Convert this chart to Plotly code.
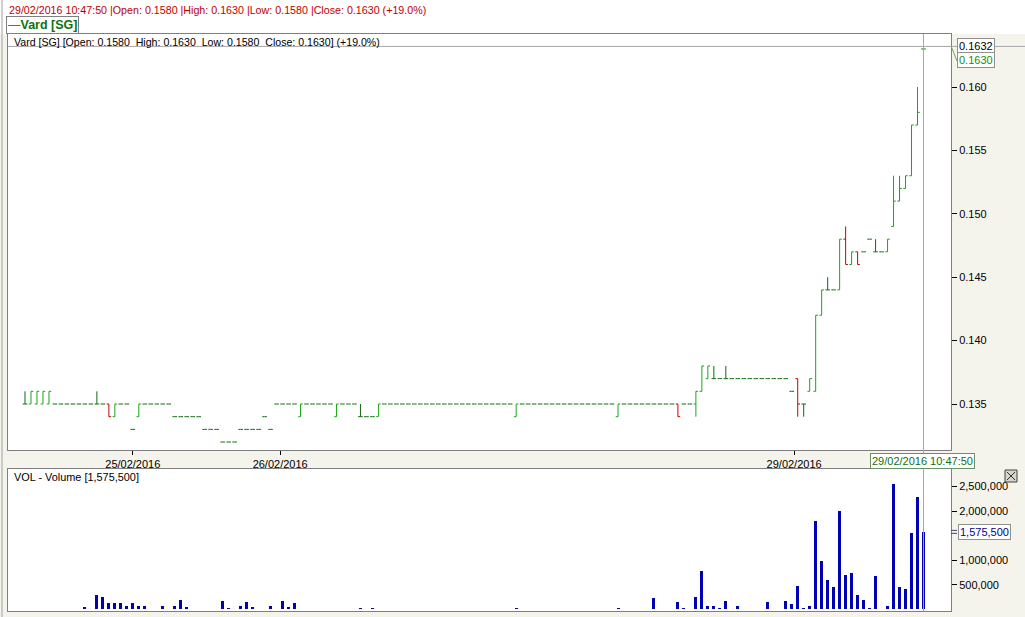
import plotly.graph_objects as go

# ---------------- data ----------------
bar_index = list(range(151))

open_ = [
    0.135, 0.135, 0.135, 0.135, 0.135, 0.135, 0.135, 0.135, 0.135, 0.135,
    0.135, 0.135, 0.135, 0.135, 0.135, 0.134, 0.135, 0.135, 0.133, 0.134,
    0.135, 0.135, 0.135, 0.135, 0.135, 0.134, 0.134, 0.134, 0.134, 0.134,
    0.133, 0.133, 0.133, 0.132, 0.132, 0.132, 0.133, 0.133, 0.133, 0.133,
    0.134, 0.133, 0.135, 0.135, 0.135, 0.135, 0.134, 0.135, 0.135, 0.135,
    0.135, 0.135, 0.134, 0.135, 0.135, 0.135, 0.134, 0.134, 0.134, 0.134,
    0.135, 0.135, 0.135, 0.135, 0.135, 0.135, 0.135, 0.135, 0.135, 0.135,
    0.135, 0.135, 0.135, 0.135, 0.135, 0.135, 0.135, 0.135, 0.135, 0.135,
    0.135, 0.135, 0.134, 0.135, 0.135, 0.135, 0.135, 0.135, 0.135, 0.135,
    0.135, 0.135, 0.135, 0.135, 0.135, 0.135, 0.135, 0.135, 0.135, 0.134,
    0.135, 0.135, 0.135, 0.135, 0.135, 0.135, 0.135, 0.135, 0.135, 0.135,
    0.135, 0.135, 0.135, 0.136, 0.137, 0.137, 0.137, 0.137, 0.137, 0.137,
    0.137, 0.137, 0.137, 0.137, 0.137, 0.137, 0.137, 0.137, 0.136, 0.137,
    0.135, 0.136, 0.136, 0.142, 0.144, 0.144, 0.144, 0.148, 0.146, 0.147,
    0.147, 0.148, 0.147, 0.147, 0.147, 0.149, 0.151, 0.152, 0.153, 0.157,
    0.163,
]
high = [
    0.136, 0.136, 0.136, 0.136, 0.136, 0.135, 0.135, 0.135, 0.135, 0.135,
    0.135, 0.135, 0.136, 0.135, 0.135, 0.135, 0.135, 0.135, 0.133, 0.135,
    0.135, 0.135, 0.135, 0.135, 0.135, 0.134, 0.134, 0.134, 0.134, 0.134,
    0.133, 0.133, 0.133, 0.132, 0.132, 0.132, 0.133, 0.133, 0.133, 0.133,
    0.134, 0.133, 0.135, 0.135, 0.135, 0.135, 0.135, 0.135, 0.135, 0.135,
    0.135, 0.135, 0.135, 0.135, 0.135, 0.135, 0.135, 0.134, 0.134, 0.135,
    0.135, 0.135, 0.135, 0.135, 0.135, 0.135, 0.135, 0.135, 0.135, 0.135,
    0.135, 0.135, 0.135, 0.135, 0.135, 0.135, 0.135, 0.135, 0.135, 0.135,
    0.135, 0.135, 0.135, 0.135, 0.135, 0.135, 0.135, 0.135, 0.135, 0.135,
    0.135, 0.135, 0.135, 0.135, 0.135, 0.135, 0.135, 0.135, 0.135, 0.135,
    0.135, 0.135, 0.135, 0.135, 0.135, 0.135, 0.135, 0.135, 0.135, 0.135,
    0.135, 0.135, 0.136, 0.138, 0.138, 0.138, 0.137, 0.138, 0.137, 0.137,
    0.137, 0.137, 0.137, 0.137, 0.137, 0.137, 0.137, 0.137, 0.136, 0.137,
    0.135, 0.137, 0.142, 0.144, 0.145, 0.144, 0.148, 0.149, 0.147, 0.147,
    0.147, 0.148, 0.148, 0.147, 0.148, 0.153, 0.153, 0.153, 0.157, 0.160,
    0.163,
]
low = [
    0.135, 0.135, 0.135, 0.135, 0.135, 0.135, 0.135, 0.135, 0.135, 0.135,
    0.135, 0.135, 0.135, 0.135, 0.134, 0.134, 0.135, 0.135, 0.133, 0.134,
    0.135, 0.135, 0.135, 0.135, 0.135, 0.134, 0.134, 0.134, 0.134, 0.134,
    0.133, 0.133, 0.133, 0.132, 0.132, 0.132, 0.133, 0.133, 0.133, 0.133,
    0.134, 0.133, 0.135, 0.135, 0.135, 0.135, 0.134, 0.135, 0.135, 0.135,
    0.135, 0.135, 0.134, 0.135, 0.135, 0.135, 0.134, 0.134, 0.134, 0.134,
    0.135, 0.135, 0.135, 0.135, 0.135, 0.135, 0.135, 0.135, 0.135, 0.135,
    0.135, 0.135, 0.135, 0.135, 0.135, 0.135, 0.135, 0.135, 0.135, 0.135,
    0.135, 0.135, 0.134, 0.135, 0.135, 0.135, 0.135, 0.135, 0.135, 0.135,
    0.135, 0.135, 0.135, 0.135, 0.135, 0.135, 0.135, 0.135, 0.135, 0.134,
    0.135, 0.135, 0.135, 0.135, 0.135, 0.135, 0.135, 0.135, 0.135, 0.134,
    0.135, 0.135, 0.134, 0.136, 0.137, 0.137, 0.137, 0.137, 0.137, 0.137,
    0.137, 0.137, 0.137, 0.137, 0.137, 0.137, 0.137, 0.137, 0.136, 0.134,
    0.134, 0.136, 0.136, 0.142, 0.144, 0.144, 0.144, 0.146, 0.146, 0.146,
    0.147, 0.148, 0.147, 0.147, 0.147, 0.149, 0.151, 0.152, 0.153, 0.157,
    0.163,
]
close = [
    0.135, 0.136, 0.136, 0.136, 0.136, 0.135, 0.135, 0.135, 0.135, 0.135,
    0.135, 0.135, 0.135, 0.135, 0.134, 0.135, 0.135, 0.135, 0.133, 0.135,
    0.135, 0.135, 0.135, 0.135, 0.135, 0.134, 0.134, 0.134, 0.134, 0.134,
    0.133, 0.133, 0.133, 0.132, 0.132, 0.132, 0.133, 0.133, 0.133, 0.133,
    0.134, 0.133, 0.135, 0.135, 0.135, 0.135, 0.135, 0.135, 0.135, 0.135,
    0.135, 0.135, 0.135, 0.135, 0.135, 0.135, 0.134, 0.134, 0.134, 0.135,
    0.135, 0.135, 0.135, 0.135, 0.135, 0.135, 0.135, 0.135, 0.135, 0.135,
    0.135, 0.135, 0.135, 0.135, 0.135, 0.135, 0.135, 0.135, 0.135, 0.135,
    0.135, 0.135, 0.135, 0.135, 0.135, 0.135, 0.135, 0.135, 0.135, 0.135,
    0.135, 0.135, 0.135, 0.135, 0.135, 0.135, 0.135, 0.135, 0.135, 0.135,
    0.135, 0.135, 0.135, 0.135, 0.135, 0.135, 0.135, 0.135, 0.135, 0.134,
    0.135, 0.135, 0.136, 0.138, 0.138, 0.137, 0.137, 0.137, 0.137, 0.137,
    0.137, 0.137, 0.137, 0.137, 0.137, 0.137, 0.137, 0.137, 0.136, 0.135,
    0.135, 0.137, 0.142, 0.144, 0.144, 0.144, 0.148, 0.146, 0.147, 0.146,
    0.147, 0.148, 0.147, 0.147, 0.148, 0.151, 0.152, 0.153, 0.157, 0.158,
    0.163,
]
volume = [
    0, 0, 0, 0, 0, 0, 0, 0, 0, 0,
    40000, 0, 300000, 250000, 120000, 120000, 120000, 70000, 120000, 70000,
    70000, 0, 0, 70000, 0, 70000, 190000, 40000, 0, 0,
    0, 0, 0, 160000, 30000, 0, 70000, 140000, 50000, 0,
    0, 70000, 0, 160000, 50000, 120000, 0, 0, 0, 0,
    0, 0, 0, 0, 0, 0, 30000, 0, 30000, 0,
    0, 0, 0, 0, 0, 0, 0, 0, 0, 0,
    0, 0, 0, 0, 0, 0, 0, 0, 0, 0,
    0, 0, 30000, 0, 0, 0, 0, 0, 0, 0,
    0, 0, 0, 0, 0, 0, 0, 0, 0, 20000,
    0, 0, 0, 0, 0, 240000, 0, 0, 0, 140000,
    20000, 0, 260000, 770000, 70000, 70000, 20000, 170000, 0, 70000,
    0, 0, 0, 0, 140000, 0, 0, 160000, 110000, 480000,
    20000, 70000, 1800000, 990000, 590000, 460000, 2000000, 700000, 730000, 290000,
    190000, 20000, 670000, 0, 60000, 2550000, 460000, 420000, 1560000, 2290000,
    1575500,
]

date_tick_pos = [18, 42.6, 128.4]
date_tick_text = ["25/02/2016", "26/02/2016", "29/02/2016"]
price_ticks = [0.135, 0.140, 0.145, 0.150, 0.155, 0.160]
volume_ticks = [500000, 1000000, 2000000, 2500000]
cursor_index = 150
cursor_price = 0.1632
last_price = 0.1630
last_volume = 1575500

# ---------------- geometry helpers (pixel -> paper) ----------------
W, H = 1025, 617
L, R, T, B = 8, 951, 34, 611


def px(x):
    return (x - L) / (R - L)


def py(y):
    return (B - y) / (B - T)


FONT = "Arial, Liberation Sans, sans-serif"
UP, DOWN, FLAT = "#18A618", "#C80000", "#0E6A0E"

# split bars into up / down / unchanged groups
groups = {"up": ([], [], [], [], []), "down": ([], [], [], [], []), "flat": ([], [], [], [], [])}
for i, o, h, l, c in zip(bar_index, open_, high, low, close):
    key = "up" if c > o else ("down" if c < o else "flat")
    g = groups[key]
    g[0].append(i); g[1].append(o); g[2].append(h); g[3].append(l); g[4].append(c)

fig = go.Figure()
for key, color in (("flat", FLAT), ("up", UP), ("down", DOWN)):
    g = groups[key]
    fig.add_trace(go.Ohlc(
        x=g[0], open=g[1], high=g[2], low=g[3], close=g[4],
        increasing=dict(line=dict(color=color, width=1)),
        decreasing=dict(line=dict(color=color, width=1)),
        tickwidth=0.38, hoverinfo="skip", showlegend=False,
        xaxis="x", yaxis="y",
    ))

fig.add_trace(go.Bar(
    x=bar_index, y=[v if v else None for v in volume],
    width=0.5, marker=dict(color="#0000B4", line=dict(width=0)),
    hoverinfo="skip", showlegend=False, xaxis="x2", yaxis="y2",
))

xr = [(L - 25) / 5.99, (R - 25) / 5.99]
axis_common = dict(showgrid=False, zeroline=False, showline=True, linecolor="#7F7F7F",
                   linewidth=1, mirror=True, fixedrange=True)

fig.update_layout(
    width=W, height=H,
    margin=dict(l=L, r=W - R, t=T, b=H - B, pad=0),
    paper_bgcolor="#F5F4EC", plot_bgcolor="#FFFFFF",
    font=dict(family=FONT, size=11, color="#000000"),
    showlegend=False, bargap=0,
    xaxis=dict(domain=[0, 1], range=xr, anchor="y", tickmode="array",
               tickvals=date_tick_pos, ticktext=date_tick_text, ticks="outside",
               ticklen=4, tickcolor="#000000", tickfont=dict(size=11, family=FONT),
               rangeslider=dict(visible=False), **axis_common),
    xaxis2=dict(domain=[0, 1], matches="x", anchor="y2", showticklabels=False,
                rangeslider=dict(visible=False), **axis_common),
    yaxis=dict(domain=[py(450), 1], range=[0.135 - (450 - 404) / 12680, 0.135 + (404 - T) / 12680],
               side="right", anchor="x", tickmode="array", tickvals=price_ticks,
               tickformat=".3f", ticks="outside", ticklen=5, tickcolor="#000000",
               tickfont=dict(size=11, family=FONT), **axis_common),
    yaxis2=dict(domain=[0, py(469)], range=[-(B - 609.3) / 49.15e-6, (609.3 - 469) / 49.15e-6],
                side="right", anchor="x2", tickmode="array", tickvals=volume_ticks,
                tickformat=",d", ticks="outside", ticklen=5, tickcolor="#000000",
                tickfont=dict(size=11, family=FONT), **axis_common),
)

shapes = [
    # white header strip
    dict(type="rect", xref="paper", yref="paper", x0=px(0), x1=px(W), y0=py(T), y1=py(0),
         fillcolor="#FFFFFF", line=dict(width=0), layer="below"),
    # window left border
    dict(type="line", xref="paper", yref="paper", x0=px(2), x1=px(2), y0=py(H), y1=py(0),
         line=dict(color="#A0A0A0", width=1)),
    # crosshair horizontal
    dict(type="line", xref="paper", yref="y", x0=0, x1=px(W), y0=cursor_price, y1=cursor_price,
         line=dict(color="#A8A8A8", width=1)),
    # crosshair vertical
    dict(type="line", xref="x", yref="paper", x0=cursor_index, x1=cursor_index, y0=0, y1=1,
         line=dict(color="#A8A8A8", width=1)),
    # connector to last-price label
    dict(type="line", xref="paper", yref="paper", x0=px(951), x1=px(957), y0=py(46), y1=py(61),
         line=dict(color="#6FA56F", width=1)),
    # small double tick at current volume
    dict(type="line", xref="paper", yref="y2", x0=px(951), x1=px(957), y0=last_volume + 30000,
         y1=last_volume + 30000, line=dict(color="#404080", width=1)),
    dict(type="line", xref="paper", yref="y2", x0=px(951), x1=px(957), y0=last_volume - 30000,
         y1=last_volume - 30000, line=dict(color="#404080", width=1)),
    # close button
    dict(type="rect", xref="paper", yref="paper", x0=px(1005), x1=px(1017), y0=py(482), y1=py(470),
         fillcolor="#D8D6CC", line=dict(color="#404040", width=1)),
    dict(type="line", xref="paper", yref="paper", x0=px(1007), x1=px(1015), y0=py(480), y1=py(472),
         line=dict(color="#303030", width=1)),
    dict(type="line", xref="paper", yref="paper", x0=px(1007), x1=px(1015), y0=py(472), y1=py(480),
         line=dict(color="#303030", width=1)),
]
fig.update_layout(shapes=shapes)

NB = "\u00a0"
ann = [
    dict(x=px(7), y=py(10), text="29/02/2016 10:47:50 |Open: 0.1580 |High: 0.1630 |Low: 0.1580 |Close: 0.1630 (+19.0%)",
         xanchor="left", yanchor="middle", font=dict(color="#C00000", size=10.7, family=FONT)),
    dict(x=px(6), y=py(25), text="<span style='color:#1E9E1E'>—</span><b>Vard [SG]</b>",
         xanchor="left", yanchor="middle", font=dict(color="#107010", size=12.5, family=FONT),
         bgcolor="#FFFFFF", bordercolor="#808080", borderwidth=1, borderpad=1),
    dict(x=px(12), y=py(42), text=f"Vard [SG] [Open: 0.1580{NB}{NB}High: 0.1630{NB}{NB}Low: 0.1580{NB}{NB}Close: 0.1630] (+19.0%)",
         xanchor="left", yanchor="middle", font=dict(color="#000000", size=10.6, family=FONT)),
    dict(x=px(957), y=py(46), text=f"{cursor_price:.4f}", xanchor="left", yanchor="middle",
         font=dict(color="#000000", size=11, family=FONT), bgcolor="#FFFFFF",
         bordercolor="#909090", borderwidth=1, borderpad=1),
    dict(x=px(957), y=py(60.5), text=f"{last_price:.4f}", xanchor="left", yanchor="middle",
         font=dict(color="#109010", size=11, family=FONT), bgcolor="#FFFFFF",
         bordercolor="#909090", borderwidth=1, borderpad=1),
    dict(x=px(922), y=py(461), text="29/02/2016 10:47:50", xanchor="center", yanchor="middle",
         font=dict(color="#107010", size=11, family=FONT), bgcolor="#FFFFFF",
         bordercolor="#6A8F6A", borderwidth=1, borderpad=1),
    dict(x=px(12), y=py(477), text=f"VOL - Volume [{last_volume:,}]", xanchor="left", yanchor="middle",
         font=dict(color="#000000", size=10.9, family=FONT)),
    dict(x=px(958), y=py(532), text=f"{last_volume:,}", xanchor="left", yanchor="middle",
         font=dict(color="#000090", size=11, family=FONT), bgcolor="#FFFFFF",
         bordercolor="#909090", borderwidth=1, borderpad=1),
]
for a in ann:
    a.update(xref="paper", yref="paper", showarrow=False)
fig.update_layout(annotations=ann)

fig.write_html(
    "out.html",
    config={"displayModeBar": False, "staticPlot": True},
    post_script="document.body.style.margin='0';document.body.style.overflow='hidden';",
)
